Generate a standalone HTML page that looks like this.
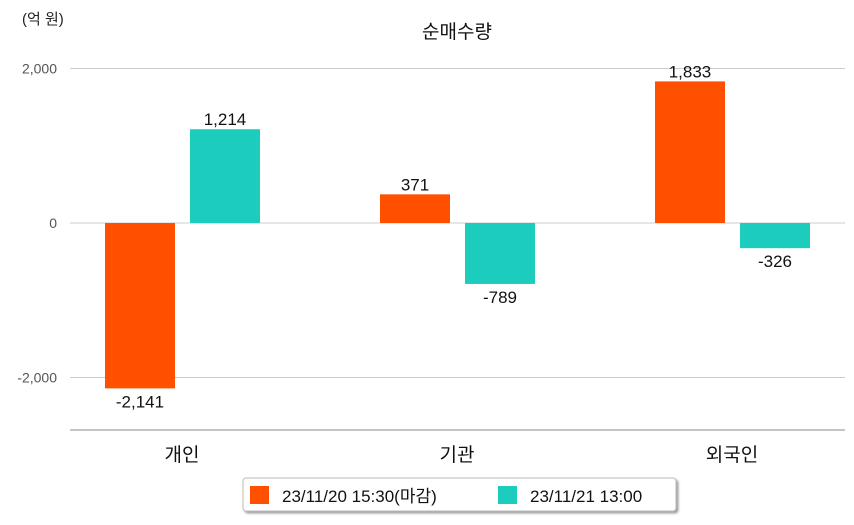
<!DOCTYPE html>
<html><head><meta charset="utf-8"><style>
body{margin:0;background:#fff;width:854px;height:520px;overflow:hidden;font-family:"Liberation Sans","Noto Sans CJK KR",sans-serif}
</style></head><body>
<svg id="c" width="854" height="520" style="font-family:'Liberation Sans','Noto Sans CJK KR',sans-serif">
<defs><filter id="sh" x="-5%" y="-20%" width="110%" height="160%"><feDropShadow dx="2" dy="2" stdDeviation="1" flood-color="#888" flood-opacity="0.8"/></filter></defs>
<text x="22" y="24" font-size="15" fill="#222">(억 원)</text>
<text x="457" y="38" font-size="19" fill="#111" text-anchor="middle">순매수량</text>
<g id="grid"></g><g id="bars"></g>
<line x1="70" y1="430" x2="845" y2="430" stroke="#888" stroke-width="1"/>
<g>
<rect x="243" y="478" width="433" height="33" rx="3" fill="#fff" stroke="#bbb" filter="url(#sh)"/>
<rect x="250" y="486" width="19" height="18" fill="#ff5000"/>
<text x="282" y="502" font-size="17" fill="#111">23/11/20 15:30(마감)</text>
<rect x="498" y="486" width="19" height="18" fill="#1ccdbe"/>
<text x="530" y="502" font-size="17" fill="#111">23/11/21 13:00</text>
</g>
</svg>
<script>
const categories=["개인","기관","외국인"];
const series1=[-2141,371,1833];
const series2=[1214,-789,-326];
const ticks=[2000,0,-2000];
const tickLabels=["2,000","0","-2,000"];
const colors=["#ff5000","#1ccdbe"];
const NS="http://www.w3.org/2000/svg";
const y=v=>223-v*(154.5/2000);
const xc=i=>182+i*275;
function mk(t,a,p){const e=document.createElementNS(NS,t);for(const k in a)e.setAttribute(k,a[k]);p.appendChild(e);return e;}
const g=document.getElementById('grid'),b=document.getElementById('bars');
ticks.forEach((t,i)=>{
 const l=mk('line',{x1:70,x2:845,y1:y(t),y2:y(t),stroke:'#ccc','stroke-width':1},g);
 
 
 const tx=mk('text',{x:57,y:y(t)+5,'font-size':14,fill:'#555','text-anchor':'end'},g);
 tx.textContent=tickLabels[i];
 
 
});
const fmt=v=>v.toLocaleString('en-US');
categories.forEach((c,i)=>{
 [series1,series2].forEach((s,j)=>{
  const v=s[i],x=xc(i)+(j===0?-77:8),w=70;
  const r=mk('rect',{x:x,y:Math.min(y(v),y(0)),width:w,height:Math.abs(y(v)-y(0)),fill:colors[j]},b);
  
  
  const ly=v>=0?y(v)-4:y(v)+19;
  const t=mk('text',{x:x+w/2,y:ly,'font-size':17,fill:'#111','text-anchor':'middle'},b);
  t.textContent=fmt(v);
  
  
 });
 const ct=mk('text',{x:xc(i),y:461,'font-size':19,fill:'#111','text-anchor':'middle'},b);
 ct.textContent=c;
 
 
});
</script>
</body></html>
